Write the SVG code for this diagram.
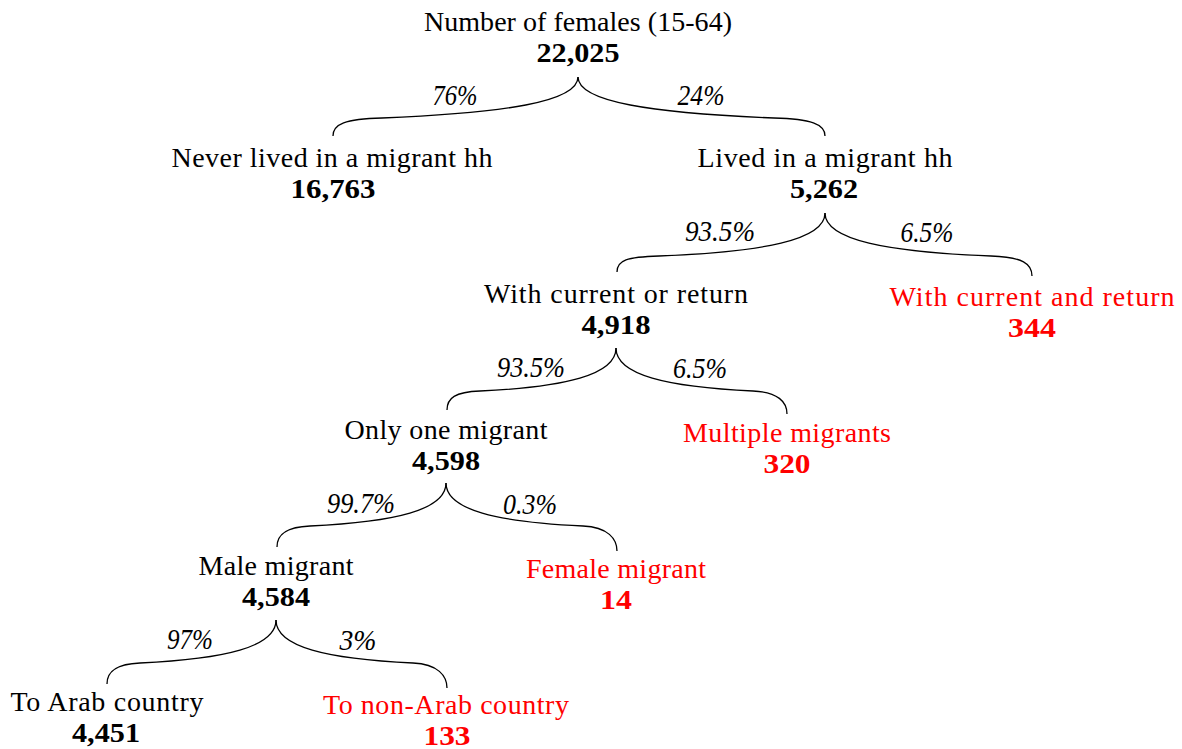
<svg xmlns="http://www.w3.org/2000/svg" width="1182" height="749" viewBox="0 0 1182 749">
<style>
text{font-family:"Liberation Serif","Times New Roman",serif;font-size:28px;text-anchor:middle;fill:#000}
.num{font-weight:bold}
.red{fill:#ff0000}
.pct{font-style:italic;font-size:29px}
.brace{fill:none;stroke:#000;stroke-width:1.3}
</style>
<rect width="1182" height="749" fill="#fff"/>
<g id="connectors">
<path class="brace" d="M 578,77 C 578,102 504,113 382,118 C 345,119 333,124 333,136"/>
<path class="brace" d="M 578,77 C 578,102 652,113 774,118 C 811,119 825,124 825,136"/>
<path class="brace" d="M 825,213 C 825,240 763,252 659,256 C 627,257 617,260 617,272"/>
<path class="brace" d="M 825,213 C 825,240 887,252 991,256 C 1023,257 1032,264 1032,276"/>
<path class="brace" d="M 616,348 C 616,375 565,387 480,391 C 455,392 447,398 447,410"/>
<path class="brace" d="M 616,348 C 616,375 667,387 753,391 C 778,392 787,402 787,414"/>
<path class="brace" d="M 446,483 C 446,510 395,522 310,526 C 285,527 277,535 277,547"/>
<path class="brace" d="M 446,483 C 446,510 497,522 583,526 C 608,527 617,539 617,551"/>
<path class="brace" d="M 276,620 C 276,647 225,659 140,663 C 115,664 107,672 107,684"/>
<path class="brace" d="M 276,620 C 276,647 327,659 413,663 C 438,664 447,676 447,688"/>
<text class="pct" x="455" y="105" textLength="45" lengthAdjust="spacingAndGlyphs">76%</text>
<text class="pct" x="701" y="105" textLength="47" lengthAdjust="spacingAndGlyphs">24%</text>
<text class="pct" x="720" y="241" textLength="70" lengthAdjust="spacingAndGlyphs">93.5%</text>
<text class="pct" x="927" y="242" textLength="53" lengthAdjust="spacingAndGlyphs">6.5%</text>
<text class="pct" x="531" y="377" textLength="68" lengthAdjust="spacingAndGlyphs">93.5%</text>
<text class="pct" x="700" y="378" textLength="54" lengthAdjust="spacingAndGlyphs">6.5%</text>
<text class="pct" x="361" y="513" textLength="68" lengthAdjust="spacingAndGlyphs">99.7%</text>
<text class="pct" x="530" y="514" textLength="54" lengthAdjust="spacingAndGlyphs">0.3%</text>
<text class="pct" x="190" y="649" textLength="46" lengthAdjust="spacingAndGlyphs">97%</text>
<text class="pct" x="358" y="650" textLength="37" lengthAdjust="spacingAndGlyphs">3%</text>
</g>
<g id="n-total">
<text x="578" y="31" textLength="308">Number of females (15-64)</text>
<text class="num" x="578" y="62" textLength="83" lengthAdjust="spacingAndGlyphs">22,025</text>
</g>
<g id="n-never">
<text x="332" y="167" textLength="321">Never lived in a migrant hh</text>
<text class="num" x="333" y="198" textLength="85" lengthAdjust="spacingAndGlyphs">16,763</text>
</g>
<g id="n-lived">
<text x="825" y="167" textLength="255">Lived in a migrant hh</text>
<text class="num" x="824" y="198" textLength="68" lengthAdjust="spacingAndGlyphs">5,262</text>
</g>
<g id="n-current-or">
<text x="616" y="303" textLength="264">With current or return</text>
<text class="num" x="616" y="334" textLength="69" lengthAdjust="spacingAndGlyphs">4,918</text>
</g>
<g id="n-current-and">
<text class="red" x="1032" y="306" textLength="285">With current and return</text>
<text class="num red" x="1032" y="337" textLength="48" lengthAdjust="spacingAndGlyphs">344</text>
</g>
<g id="n-one">
<text x="446" y="439" textLength="203">Only one migrant</text>
<text class="num" x="446" y="470" textLength="68" lengthAdjust="spacingAndGlyphs">4,598</text>
</g>
<g id="n-multiple">
<text class="red" x="787" y="442" textLength="208">Multiple migrants</text>
<text class="num red" x="787" y="473" textLength="47" lengthAdjust="spacingAndGlyphs">320</text>
</g>
<g id="n-male">
<text x="276" y="575" textLength="155">Male migrant</text>
<text class="num" x="276" y="606" textLength="68" lengthAdjust="spacingAndGlyphs">4,584</text>
</g>
<g id="n-female">
<text class="red" x="616" y="578" textLength="180">Female migrant</text>
<text class="num red" x="616" y="609" textLength="32" lengthAdjust="spacingAndGlyphs">14</text>
</g>
<g id="n-arab">
<text x="107" y="711" textLength="193">To Arab country</text>
<text class="num" x="106" y="742" textLength="68" lengthAdjust="spacingAndGlyphs">4,451</text>
</g>
<g id="n-nonarab">
<text class="red" x="446" y="714" textLength="246">To non-Arab country</text>
<text class="num red" x="447" y="745" textLength="47" lengthAdjust="spacingAndGlyphs">133</text>
</g>
</svg>
